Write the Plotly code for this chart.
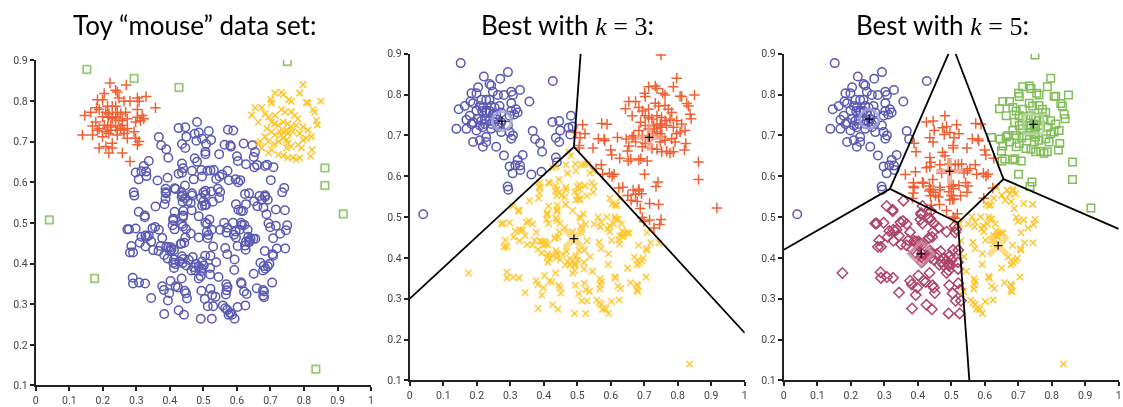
import numpy as np
import plotly.graph_objects as go

# ---------------- data ----------------
head_x = [0.481,0.426,0.446,0.474,0.486,0.367,0.449,0.516,0.496,0.523,0.573,0.589,0.479,0.374,0.389,0.436,0.446,0.508,0.563,0.580,
          0.582,0.620,0.646,0.654,0.650,0.506,0.506,0.547,0.395,0.600,0.603,0.474,0.481,0.337,0.436,0.439,0.322,0.315,0.298,0.329,
          0.330,0.307,0.426,0.436,0.466,0.494,0.512,0.521,0.531,0.496,0.471,0.627,0.652,0.660,0.684,0.690,0.709,0.572,0.556,0.548,
          0.576,0.596,0.610,0.604,0.538,0.701,0.363,0.393,0.292,0.294,0.357,0.387,0.387,0.389,0.414,0.417,0.387,0.384,0.435,0.438,
          0.435,0.445,0.466,0.466,0.446,0.453,0.438,0.462,0.500,0.506,0.523,0.506,0.493,0.500,0.496,0.504,0.508,0.528,0.547,0.550,
          0.543,0.624,0.636,0.667,0.684,0.674,0.692,0.684,0.651,0.661,0.627,0.597,0.679,0.741,0.735,0.743,0.716,0.688,0.604,0.612,
          0.618,0.465,0.440,0.440,0.439,0.414,0.410,0.410,0.408,0.325,0.325,0.307,0.486,0.518,0.506,0.511,0.562,0.588,0.612,0.615,
          0.622,0.632,0.608,0.596,0.591,0.571,0.569,0.550,0.525,0.529,0.512,0.515,0.510,0.486,0.462,0.446,0.443,0.434,0.439,0.448,
          0.436,0.414,0.694,0.699,0.716,0.750,0.746,0.729,0.708,0.744,0.719,0.706,0.708,0.683,0.697,0.692,0.685,0.678,0.680,0.705,
          0.670,0.650,0.634,0.641,0.637,0.636,0.649,0.655,0.627,0.624,0.597,0.602,0.626,0.565,0.571,0.593,0.592,0.538,0.521,0.505,
          0.496,0.501,0.478,0.471,0.486,0.494,0.464,0.476,0.493,0.486,0.492,0.520,0.520,0.545,0.468,0.456,0.436,0.439,0.449,0.438,
          0.428,0.412,0.410,0.417,0.412,0.383,0.393,0.400,0.405,0.412,0.403,0.395,0.389,0.372,0.366,0.377,0.432,0.348,0.356,0.367,
          0.337,0.332,0.327,0.344,0.315,0.310,0.327,0.350,0.285,0.281,0.290,0.273,0.278,0.298,0.402,0.417,0.377,0.382,0.344,0.394,
          0.398,0.424,0.435,0.444,0.448,0.451,0.383,0.426,0.442,0.494,0.492,0.525,0.504,0.513,0.521,0.526,0.536,0.529,0.558,0.568,
          0.572,0.569,0.567,0.565,0.571,0.580,0.585,0.593,0.575,0.602,0.612,0.614,0.621,0.629,0.625,0.659,0.678,0.681,0.678,0.681,
          0.289,0.290,0.308,0.326]
head_y = [0.748,0.733,0.735,0.719,0.722,0.711,0.712,0.726,0.707,0.704,0.729,0.727,0.702,0.691,0.681,0.694,0.684,0.694,0.692,0.691,
          0.687,0.695,0.691,0.674,0.662,0.675,0.669,0.669,0.660,0.664,0.652,0.659,0.650,0.652,0.646,0.634,0.640,0.627,0.624,0.626,
          0.615,0.607,0.621,0.623,0.628,0.630,0.628,0.629,0.630,0.614,0.607,0.644,0.637,0.642,0.640,0.643,0.637,0.628,0.619,0.614,
          0.605,0.607,0.605,0.600,0.608,0.605,0.604,0.611,0.575,0.567,0.540,0.584,0.575,0.572,0.585,0.583,0.559,0.546,0.576,0.568,
          0.564,0.592,0.573,0.567,0.561,0.553,0.552,0.549,0.575,0.579,0.577,0.569,0.562,0.553,0.542,0.543,0.544,0.552,0.561,0.576,
          0.584,0.571,0.573,0.566,0.564,0.556,0.557,0.568,0.553,0.541,0.546,0.546,0.538,0.586,0.575,0.531,0.533,0.521,0.532,0.529,
          0.529,0.531,0.529,0.518,0.514,0.527,0.510,0.506,0.494,0.518,0.514,0.527,0.516,0.508,0.500,0.497,0.500,0.500,0.500,0.495,
          0.495,0.483,0.483,0.479,0.471,0.488,0.476,0.483,0.483,0.442,0.462,0.470,0.478,0.464,0.474,0.464,0.451,0.449,0.491,0.485,
          0.497,0.484,0.499,0.489,0.493,0.494,0.482,0.473,0.462,0.437,0.437,0.423,0.419,0.431,0.399,0.393,0.387,0.383,0.394,0.353,
          0.402,0.375,0.466,0.461,0.456,0.452,0.461,0.461,0.454,0.444,0.464,0.443,0.434,0.438,0.423,0.410,0.384,0.403,0.419,0.419,
          0.405,0.395,0.399,0.391,0.393,0.387,0.383,0.383,0.381,0.363,0.369,0.389,0.373,0.367,0.416,0.409,0.418,0.411,0.395,0.401,
          0.405,0.410,0.402,0.398,0.389,0.421,0.412,0.431,0.435,0.433,0.440,0.440,0.441,0.443,0.431,0.463,0.448,0.487,0.490,0.483,
          0.469,0.466,0.469,0.454,0.466,0.451,0.442,0.433,0.443,0.427,0.427,0.484,0.484,0.486,0.357,0.344,0.344,0.335,0.315,0.309,
          0.327,0.341,0.363,0.333,0.327,0.314,0.276,0.285,0.274,0.333,0.264,0.264,0.313,0.295,0.338,0.322,0.318,0.295,0.297,0.349,
          0.342,0.334,0.324,0.290,0.286,0.278,0.274,0.264,0.274,0.293,0.354,0.350,0.331,0.325,0.297,0.339,0.335,0.331,0.321,0.317,
          0.365,0.351,0.353,0.351]

lear_x = [0.221,0.270,0.204,0.238,0.243,0.329,0.184,0.199,0.248,0.263,0.281,0.303,0.308,0.357,0.181,0.189,0.214,0.228,0.238,0.146,
          0.209,0.218,0.243,0.253,0.268,0.303,0.317,0.322,0.199,0.228,0.258,0.273,0.169,0.184,0.189,0.204,0.214,0.224,0.238,0.253,
          0.263,0.273,0.293,0.298,0.303,0.312,0.139,0.169,0.199,0.218,0.243,0.263,0.273,0.298,0.308,0.303,0.189,0.209,0.228,0.218,
          0.228,0.258,0.281,0.228,0.238,0.248,0.216,0.258,0.243,0.224,0.209,0.179,0.164]
lear_y = [0.844,0.839,0.818,0.826,0.822,0.811,0.803,0.803,0.807,0.799,0.799,0.807,0.799,0.783,0.783,0.779,0.787,0.787,0.787,0.764,
          0.772,0.768,0.772,0.768,0.772,0.779,0.764,0.756,0.761,0.761,0.752,0.756,0.738,0.728,0.732,0.740,0.736,0.740,0.736,0.732,
          0.728,0.732,0.724,0.748,0.760,0.751,0.716,0.716,0.712,0.720,0.716,0.720,0.708,0.708,0.700,0.692,0.684,0.688,0.696,0.672,
          0.684,0.672,0.651,0.756,0.760,0.752,0.760,0.740,0.728,0.728,0.724,0.748,0.772]

rear_x = [0.797,0.713,0.733,0.738,0.787,0.701,0.703,0.755,0.762,0.807,0.812,0.850,0.654,0.674,0.644,0.684,0.694,0.713,0.733,0.743,
          0.762,0.772,0.782,0.827,0.832,0.837,0.840,0.664,0.689,0.703,0.713,0.723,0.738,0.752,0.762,0.777,0.797,0.812,0.728,0.738,
          0.748,0.752,0.767,0.787,0.703,0.713,0.684,0.822,0.807,0.797,0.669,0.664,0.694,0.711,0.752,0.748,0.762,0.782,0.792,0.824,
          0.723,0.738,0.752,0.767,0.777,0.787,0.820,0.694,0.703,0.731,0.738,0.748,0.725,0.674]
rear_y = [0.840,0.819,0.821,0.815,0.819,0.803,0.795,0.803,0.799,0.796,0.795,0.799,0.783,0.783,0.765,0.768,0.760,0.764,0.779,0.772,
          0.773,0.764,0.756,0.778,0.772,0.752,0.741,0.748,0.732,0.748,0.744,0.740,0.748,0.744,0.736,0.740,0.736,0.728,0.724,0.724,
          0.728,0.720,0.724,0.720,0.724,0.716,0.712,0.712,0.708,0.704,0.700,0.696,0.700,0.694,0.696,0.684,0.688,0.692,0.684,0.680,
          0.668,0.666,0.660,0.661,0.656,0.660,0.664,0.672,0.680,0.716,0.708,0.704,0.700,0.684]

noise_x = [0.152,0.293,0.427,0.750,0.862,0.862,0.917,0.040,0.175,0.835]
noise_y = [0.877,0.855,0.833,0.897,0.635,0.592,0.522,0.507,0.363,0.140]

# k = 3 centroids: blue circle, red plus, yellow x
k3_cx = [0.275, 0.715, 0.490]
k3_cy = [0.735, 0.695, 0.447]
k3_style = ["blue", "red", "yellow"]
# k = 5 centroids: blue circle, green square, red plus, purple diamond, yellow x
k5_cx = [0.255, 0.745, 0.495, 0.410, 0.640]
k5_cy = [0.740, 0.727, 0.612, 0.410, 0.430]
k5_style = ["blue", "green", "red", "purple", "yellow"]

# Voronoi boundary segments (x list, y list per segment)
k3_bx = [[0.490, 0.510], [0.490, 0.000], [0.490, 1.000]]
k3_by = [[0.672, 0.900], [0.672, 0.300], [0.672, 0.216]]
k5_bx = [[0.000, 0.317, 0.520, 0.656, 1.000], [0.317, 0.492], [0.520, 0.554], [0.656, 0.513]]
k5_by = [[0.420, 0.569, 0.486, 0.593, 0.471], [0.569, 0.900], [0.486, 0.100], [0.593, 0.900]]

# ---------------- styles ----------------
STY = {
    "blue":   dict(color="#3c3ca6", pale="#a9a9d6", symbol="circle-open", size=8.5, cw=3),
    "red":    dict(color="#ee4512", pale="#f4a084", symbol="cross-thin-open", size=7.5, cw=5),
    "yellow": dict(color="#fcbd0b", pale="#fbd567", symbol="x-thin-open", size=6.5, cw=6),
    "green":  dict(color="#6cb33c", pale="#b5d99c", symbol="square-open", size=7.5, cw=3),
    "purple": dict(color="#a3224f", pale="#cf8aa3", symbol="diamond-open", size=8, cw=3.5),
}

all_x = np.array(head_x + lear_x + rear_x + noise_x)
all_y = np.array(head_y + lear_y + rear_y + noise_y)

fig = go.Figure()

def pts(x, y, style, ax):
    s = STY[style]
    fig.add_trace(go.Scatter(x=x, y=y, mode="markers", xaxis="x" + ax, yaxis="y" + ax,
                             opacity=0.85, hoverinfo="skip",
                             marker=dict(symbol=s["symbol"], size=s["size"], color=s["color"],
                                         line=dict(width=1.5, color=s["color"]))))

# panel 1
pts(head_x, head_y, "blue", "")
pts(lear_x, lear_y, "red", "")
pts(rear_x, rear_y, "yellow", "")
pts(noise_x, noise_y, "green", "")

def kpanel(cx, cy, styles, bx, by, ax):
    cx = np.array(cx); cy = np.array(cy)
    d = (all_x[:, None] - cx[None, :]) ** 2 + (all_y[:, None] - cy[None, :]) ** 2
    lab = d.argmin(axis=1)
    for i, st in enumerate(styles):
        m = lab == i
        pts(all_x[m], all_y[m], st, ax)
    for i, st in enumerate(styles):
        s = STY[st]
        fig.add_trace(go.Scatter(x=[cx[i]], y=[cy[i]], mode="markers", xaxis="x" + ax, yaxis="y" + ax,
                                 opacity=0.8, hoverinfo="skip",
                                 marker=dict(symbol=s["symbol"], size=19, color=s["pale"],
                                             line=dict(width=s["cw"], color=s["pale"]))))
    fig.add_trace(go.Scatter(x=cx, y=cy, mode="markers", xaxis="x" + ax, yaxis="y" + ax,
                             hoverinfo="skip",
                             marker=dict(symbol="cross-thin-open", size=6, color="black",
                                         line=dict(width=1.2, color="black"))))
    for sx, sy in zip(bx, by):
        fig.add_trace(go.Scatter(x=sx, y=sy, mode="lines", xaxis="x" + ax, yaxis="y" + ax,
                                 hoverinfo="skip", line=dict(color="black", width=1.8)))

kpanel(k3_cx, k3_cy, k3_style, k3_bx, k3_by, "2")
kpanel(k5_cx, k5_cy, k5_style, k5_bx, k5_by, "3")

W, H = 1123, 407
def xdom(a, b): return [a / W, b / W]
def ydom(top, bot): return [1 - bot / H, 1 - top / H]

tick_font = dict(family="Roboto", size=10.5, color="#444444")
def xa(dom, anchor):
    return dict(domain=dom, range=[0, 1], anchor=anchor, showgrid=False, zeroline=False,
                showline=True, linecolor="#222222", linewidth=2, ticks="outside", ticklen=4,
                tickwidth=1.5, tickcolor="#222222", tickfont=tick_font,
                tickvals=[0, .1, .2, .3, .4, .5, .6, .7, .8, .9, 1],
                ticktext=["0", "0.1", "0.2", "0.3", "0.4", "0.5", "0.6", "0.7", "0.8", "0.9", "1"])
def ya(dom, anchor):
    return dict(domain=dom, range=[0.1, 0.9], anchor=anchor, showgrid=False, zeroline=False,
                showline=True, linecolor="#222222", linewidth=2, ticks="outside", ticklen=4,
                tickwidth=1.5, tickcolor="#222222", tickfont=tick_font,
                tickvals=[.1, .2, .3, .4, .5, .6, .7, .8, .9],
                ticktext=["0.1", "0.2", "0.3", "0.4", "0.5", "0.6", "0.7", "0.8", "0.9"])

title_font = dict(family="Lato", size=26, color="black")
SERIF = 'font-family:Liberation Serif'
titles = [
    ("Toy “mouse” data set:", 193),
    ('Best with <span style="' + SERIF + '"><i>k</i> = 3</span>:', 568),
    ('Best with <span style="' + SERIF + '"><i>k</i> = 5</span>:', 945),
]

fig.update_layout(
    width=W, height=H, margin=dict(l=0, r=0, t=0, b=0),
    paper_bgcolor="white", plot_bgcolor="white", showlegend=False,
    xaxis=xa(xdom(33, 370), "y"), yaxis=ya(ydom(56, 392), "x"),
    xaxis2=xa(xdom(409, 745.7), "y2"), yaxis2=ya(ydom(49.3, 386.7), "x2"),
    xaxis3=xa(xdom(785, 1121.7), "y3"), yaxis3=ya(ydom(49.3, 386.7), "x3"),
    annotations=[dict(text=t, x=cx / W, y=1 - 20 / H, xref="paper", yref="paper",
                      xanchor="center", yanchor="middle", showarrow=False, font=title_font)
                 for t, cx in titles],
)

fig.write_html("out.html")
